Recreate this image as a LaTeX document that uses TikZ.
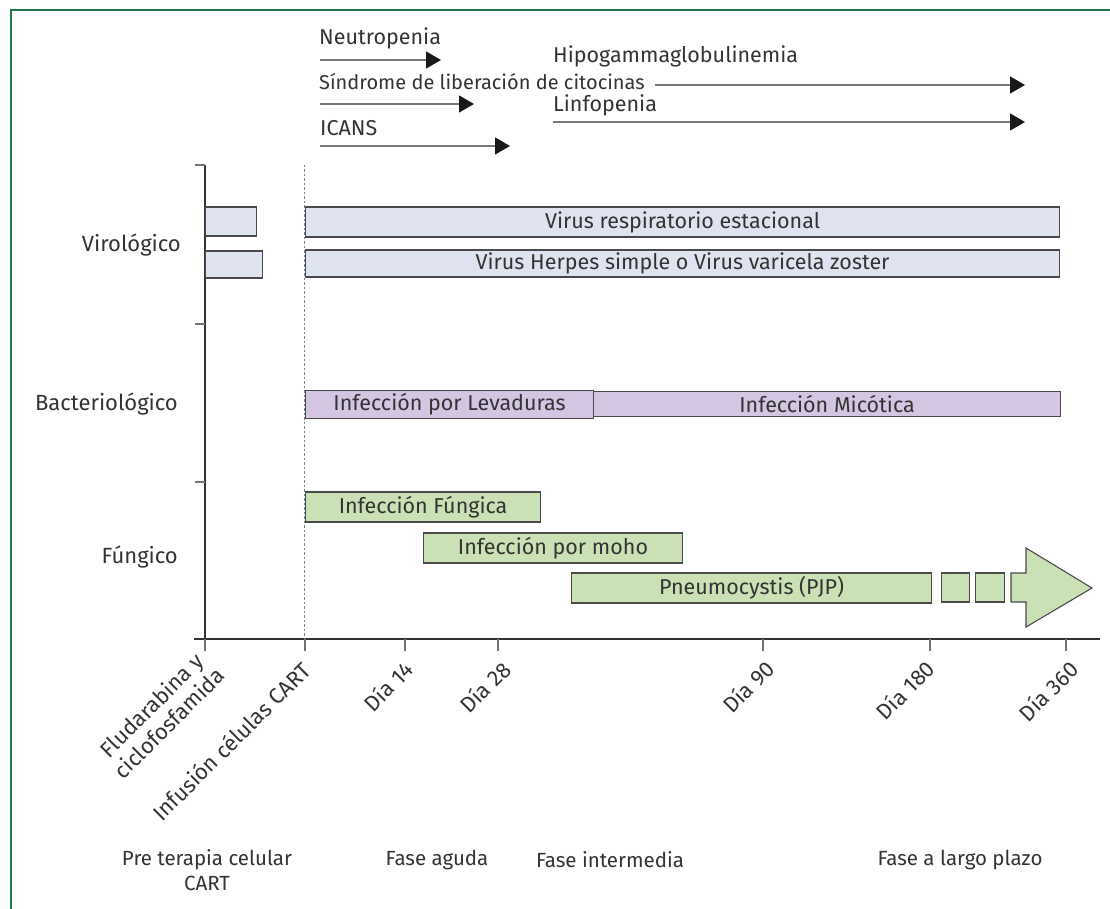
\documentclass[tikz,border=0pt]{standalone}
\usepackage{fontspec}
\setmainfont{Fira Sans}
\usetikzlibrary{arrows.meta}
\definecolor{frame}{HTML}{1B7A48}
\definecolor{txt}{HTML}{333333}
\definecolor{vfill}{HTML}{DEE3EF}
\definecolor{pfill}{HTML}{D4C5E2}
\definecolor{gfill}{HTML}{CAE1B5}
\definecolor{edge}{HTML}{4A4A4A}
\definecolor{dline}{HTML}{6E8797}
\definecolor{aline}{HTML}{777777}
\tikzset{
  lab/.style={text=txt, inner sep=0pt, font=\fontsize{21.5}{25}\selectfont},
  plab/.style={text=txt, inner sep=0pt, font=\fontsize{20.5}{25}\selectfont},
  barbox/.style={draw=edge, line width=1.1pt, inner sep=0pt, text=txt, anchor=west,
    font=\fontsize{21.5}{25}\selectfont},
  vbar/.style={barbox, fill=vfill},
  pbar/.style={barbox, fill=pfill},
  gbar/.style={barbox, fill=gfill},
  xlab/.style={text=txt, inner sep=0pt, rotate=45, align=center, font=\fontsize{22}{25}\selectfont},
  toparrow/.style={draw=aline, line width=1.3pt, -{Triangle[length=15pt,width=17pt,color=black!90]}},
  axis/.style={draw=black!80, line width=1.2pt},
  tick/.style={draw=black!55, line width=1.2pt}
}
\begin{document}
\begin{tikzpicture}[x=1pt,y=-1pt]
\useasboundingbox (0,0) rectangle (1110,909);
\begin{scope}
\clip (0,0) rectangle (1110,909);
\draw[frame, line width=2.2pt] (11,10) rectangle (1130,930);
\end{scope}

% top arrows
\node[lab, anchor=west] (neu) at (319,38) {Neutropenia};
\coordinate (neuA) at (320,60); \coordinate (neuB) at (441,60);
\draw[toparrow] (neuA) -- (neuB);
\node[lab, anchor=west, font=\fontsize{20}{24}\selectfont] (sin) at (319,82) {Síndrome de liberación de citocinas};
\coordinate (sinA) at (320,104); \coordinate (sinB) at (474,104);
\draw[toparrow] (sinA) -- (sinB);
\node[lab, anchor=west] (ica) at (320,128) {ICANS};
\coordinate (icaA) at (320,146); \coordinate (icaB) at (510,146);
\draw[toparrow] (icaA) -- (icaB);
\node[lab, anchor=west] (hip) at (553,56) {Hipogammaglobulinemia};
\coordinate (hipA) at (655,85); \coordinate (hipB) at (1025,85);
\draw[toparrow] (hipA) -- (hipB);
\node[lab, anchor=west] (lin) at (553,105) {Linfopenia};
\coordinate (linA) at (553,122); \coordinate (linB) at (1025,122);
\draw[toparrow] (linA) -- (linB);

% axes
\coordinate (yT) at (205,165); \coordinate (yB) at (205,639);
\coordinate (xL) at (194,639); \coordinate (xR) at (1100,639);
\draw[axis] (yT) -- (yB);
\draw[axis] (xL) -- (xR);
\foreach \yy in {165,324,482} \draw[tick] (195,\yy) -- (205,\yy);
\foreach \xx in {205,305,405,498,763,930,1066} \draw[tick] (\xx,639) -- (\xx,651);
\coordinate (dT) at (304,165); \coordinate (dB) at (304,639);
\draw[dline, line width=1pt, dash pattern=on 2.5pt off 2pt] (dT) -- (dB);

% y labels
\node[lab, anchor=east, font=\fontsize{22}{25}\selectfont] (vir) at (181,245) {Virológico};
\node[lab, anchor=east, font=\fontsize{22}{25}\selectfont] (bac) at (178,404) {Bacteriológico};
\node[lab, anchor=east, font=\fontsize{22}{25}\selectfont] (fun) at (178,557) {Fúngico};

% bars
\node[vbar, minimum width=51pt, minimum height=29pt] (v1) at (205,221.5) {};
\node[vbar, minimum width=57pt, minimum height=27pt] (v2) at (205,264.5) {};
\node[vbar, minimum width=754pt, minimum height=30pt] (vr) at (305,222) {Virus respiratorio estacional};
\node[vbar, minimum width=754pt, minimum height=27pt] (vh) at (305,263.5) {Virus Herpes simple o Virus varicela zoster};
\node[pbar, minimum width=467pt, minimum height=25pt] (mic) at (593,404) {Infección Micótica};
\node[pbar, minimum width=288pt, minimum height=28pt] (lev) at (305,404.5) {Infección por Levaduras};
\node[gbar, minimum width=235pt, minimum height=30pt] (ff) at (305,507) {Infección Fúngica};
\node[gbar, minimum width=259pt, minimum height=30pt] (mo) at (423,548) {Infección por moho};
\node[gbar, minimum width=360pt, minimum height=30pt] (pjp) at (571,588) {Pneumocystis (PJP)};
\node[gbar, minimum width=28pt, minimum height=29pt] (s1) at (941,587.5) {};
\node[gbar, minimum width=29pt, minimum height=29pt] (s2) at (975,587.5) {};
\draw[draw=edge, fill=gfill, line width=1.1pt] (1011,573) -- (1026,573) -- (1026,548) -- (1092,588) -- (1026,627) -- (1026,602) -- (1011,602) -- cycle;

% x labels
\node[xlab] (x0) at (160,714) {Fludarabina y\\ciclofosfamida};
\node[xlab] (x1) at (231,741) {Infusión células CART};
\node[xlab] (x2) at (388,686) {Día 14};
\node[xlab] (x3) at (485,687) {Día 28};
\node[xlab] (x4) at (748,687) {Día 90};
\node[xlab] (x5) at (905,690) {Día 180};
\node[xlab] (x6) at (1048,691) {Día 360};

% phases
\node[plab, align=center, anchor=north] (p0) at (207,849) {Pre terapia celular\\CART};
\node[plab] (p1) at (437,860) {Fase aguda};
\node[plab] (p2) at (610,860) {Fase intermedia};
\node[plab] (p3) at (960,860) {Fase a largo plazo};
\end{tikzpicture}
\end{document}
